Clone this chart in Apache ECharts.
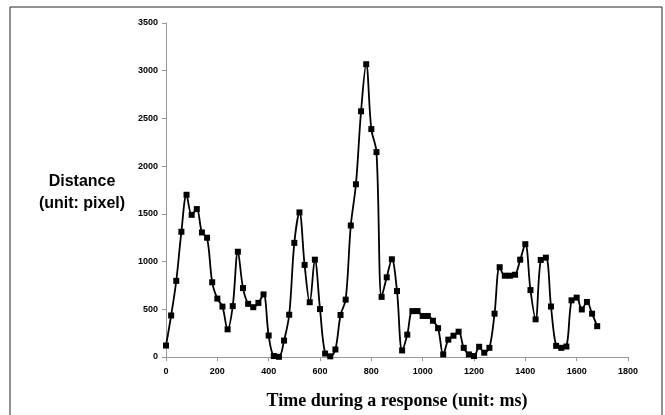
<!DOCTYPE html>
<html>
<head>
<meta charset="utf-8">
<script src="https://cdn.jsdelivr.net/npm/echarts@6/dist/echarts.min.js"></script>
<style>
  html, body { margin: 0; padding: 0; background: #fff; }
  #chart { width: 665px; height: 415px; }
</style>
</head>
<body>
<div id="chart"></div>
<script>
// time axis (ms), one sample every 20 ms
var timeMs = [0, 20, 40, 60, 80, 100, 120, 140, 160, 180,
  200, 220, 240, 260, 280, 300, 320, 340, 360, 380,
  400, 420, 440, 460, 480, 500, 520, 540, 560, 580,
  600, 620, 640, 660, 680, 700, 720, 740, 760, 780,
  800, 820, 840, 860, 880, 900, 920, 940, 960, 980,
  1000, 1020, 1040, 1060, 1080, 1100, 1120, 1140, 1160, 1180,
  1200, 1220, 1240, 1260, 1280, 1300, 1320, 1340, 1360, 1380,
  1400, 1420, 1440, 1460, 1480, 1500, 1520, 1540, 1560, 1580,
  1600, 1620, 1640, 1660, 1680];

// distance (pixel)
var distance = [120, 435, 798, 1312, 1700, 1490, 1550, 1305, 1250, 783,
  612, 528, 290, 533, 1103, 722, 557, 522, 567, 656,
  225, 10, 2, 172, 443, 1196, 1515, 965, 574, 1020,
  502, 36, 7, 79, 440, 601, 1378, 1810, 2575, 3068,
  2388, 2147, 630, 835, 1024, 691, 69, 234, 481, 481,
  430, 430, 380, 302, 27, 182, 223, 265, 96, 27,
  10, 107, 45, 96, 454, 941, 852, 852, 862, 1020,
  1182, 701, 395, 1017, 1041, 529, 117, 96, 110, 594,
  622, 498, 577, 454, 323];

var xTitle = 'Time during a response (unit: ms)';
var yTitle = 'Distance\n(unit: pixel)';

var points = timeMs.map(function (t, i) { return [t, distance[i]]; });
var plain = function (v) { return String(v); };

var chart = echarts.init(document.getElementById('chart'));
chart.setOption({
  animation: false,
  backgroundColor: '#fff',
  grid: { left: 166, right: 37, top: 23, bottom: 49 },
  graphic: [
    {
      type: 'rect',
      shape: { x: 10, y: 7, width: 652, height: 420 },
      style: { fill: 'none', stroke: '#222', lineWidth: 1 },
      silent: true
    },
    {
      type: 'text',
      x: 82, y: 193,
      style: {
        text: yTitle,
        fill: '#000',
        font: 'bold 16px "Liberation Sans", Arial, sans-serif',
        align: 'center',
        verticalAlign: 'middle',
        lineHeight: 22
      }
    }
  ],
  xAxis: {
    type: 'value',
    min: 0, max: 1800, interval: 200,
    name: xTitle,
    nameLocation: 'middle',
    nameGap: 35,
    nameTextStyle: {
      fontFamily: '"Liberation Serif", "Times New Roman", serif',
      fontWeight: 'bold', fontSize: 18, color: '#000'
    },
    axisLine: { lineStyle: { color: '#999', width: 1 } },
    axisTick: { show: true, length: 4, lineStyle: { color: '#999' } },
    axisLabel: {
      formatter: plain,
      fontFamily: '"Liberation Sans", Arial, sans-serif',
      fontWeight: 'bold', fontSize: 9, color: '#000', margin: 10
    },
    splitLine: { show: false }
  },
  yAxis: {
    type: 'value',
    min: 0, max: 3500, interval: 500,
    axisLine: { show: true, lineStyle: { color: '#999', width: 1 } },
    axisTick: { show: true, length: 4, lineStyle: { color: '#999' } },
    axisLabel: {
      formatter: plain,
      fontFamily: '"Liberation Sans", Arial, sans-serif',
      fontWeight: 'bold', fontSize: 9, color: '#000', margin: 8
    },
    splitLine: { show: false }
  },
  series: [{
    type: 'line',
    data: points,
    smooth: 0.35,
    symbol: 'rect',
    symbolSize: 6,
    itemStyle: { color: '#000' },
    lineStyle: { color: '#000', width: 1.8 }
  }]
});
</script>
</body>
</html>
